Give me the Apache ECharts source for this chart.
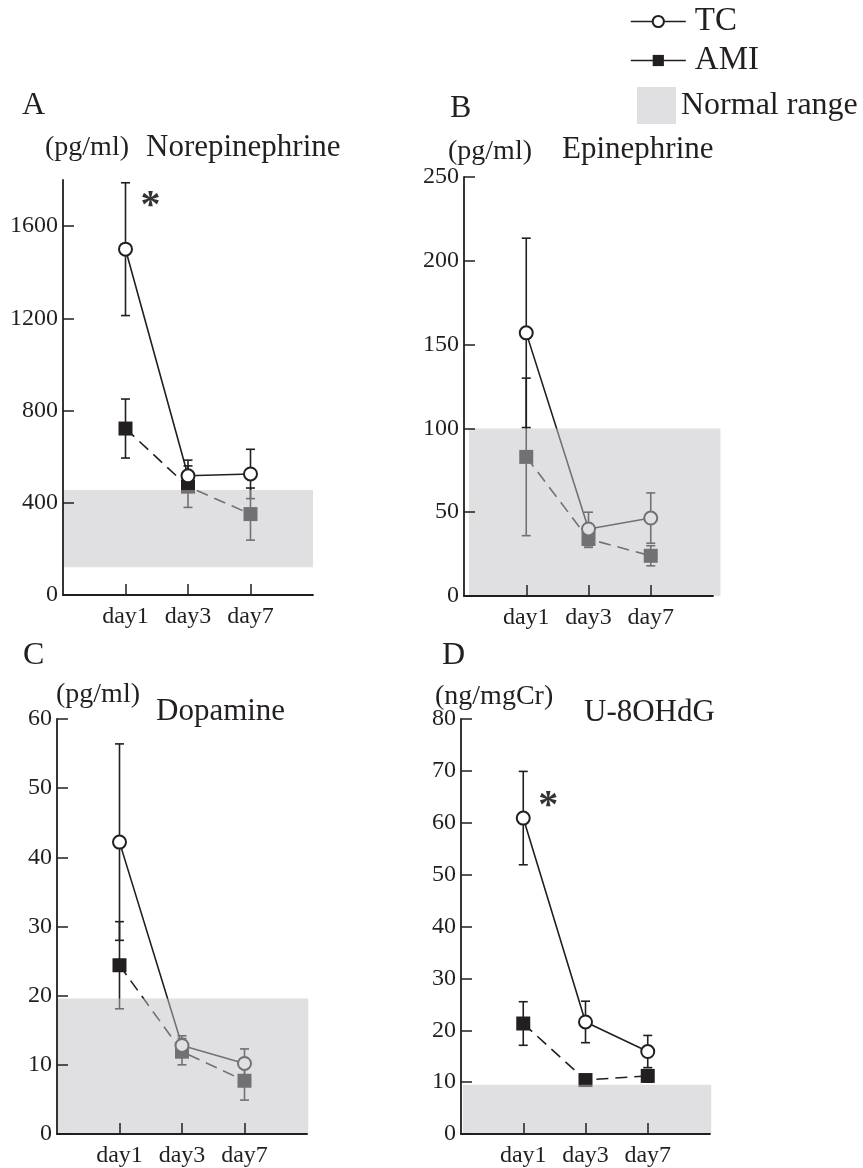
<!DOCTYPE html>
<html><head><meta charset="utf-8">
<script src="https://cdn.jsdelivr.net/npm/echarts@6/dist/echarts.min.js"></script>
<style>html,body{margin:0;padding:0;background:#fff}#c{width:863px;height:1168px}</style>
</head><body><div id="c"></div>
<script>
// ---------- data ----------
const days = ['day1', 'day3', 'day7'];

// A: Norepinephrine (pg/ml)
const neTcMean = [1500, 517, 525];
const neTcSd = [288, 68, 107];
const neAmiMean = [722, 470, 351];
const neAmiSd = [128, 90, 113];
const neNormal = [120, 455];
const neTicks = [0, 400, 800, 1200, 1600];

// B: Epinephrine (pg/ml)
const epTcMean = [157, 40, 46.5];
const epTcSd = [56.5, 10, 15];
const epAmiMean = [83, 34, 24];
const epAmiSd = [47, 5, 6];
const epNormal = [0, 100];
const epTicks = [0, 50, 100, 150, 200, 250];

// C: Dopamine (pg/ml)
const dpTcMean = [42.2, 12.8, 10.2];
const dpTcSd = [14.2, 1.4, 2.1];
const dpAmiMean = [24.4, 11.9, 7.7];
const dpAmiSd = [6.3, 1.9, 2.8];
const dpNormal = [0, 19.6];
const dpTicks = [0, 10, 20, 30, 40, 50, 60];

// D: U-8OHdG (ng/mgCr)
const ohTcMean = [60.9, 21.6, 15.9];
const ohTcSd = [9, 4, 3.1];
const ohAmiMean = [21.3, 10.4, 11.2];
const ohAmiSd = [4.2, 1.0, 1.2];
const ohNormal = [0, 9.5];
const ohTicks = [0, 10, 20, 30, 40, 50, 60, 70, 80];

// significance marks (data coords, panel A and D)
const sigA = [1.4, 1705];
const sigD = [1.4, 64];

// ---------- layout / styles ----------
const FONT = '"Liberation Serif", "Times New Roman", serif';
const INK = '#231f20';
const BAND = 'rgba(193,194,198,0.5)';

const panels = [
  {letter: 'A', unit: '(pg/ml)', title: 'Norepinephrine', tc: neTcMean, tcSd: neTcSd, ami: neAmiMean, amiSd: neAmiSd, normal: neNormal, ticks: neTicks, yMax: 1800,
   grid: {left: 63, top: 180, width: 250, height: 415}, bandX: [0, 4],
   text: {letter: [22, 106], unit: [45, 148], title: [146, 148]}},
  {letter: 'B', unit: '(pg/ml)', title: 'Epinephrine', tc: epTcMean, tcSd: epTcSd, ami: epAmiMean, amiSd: epAmiSd, normal: epNormal, ticks: epTicks, yMax: 250,
   grid: {left: 464, top: 177, width: 249, height: 419}, bandX: [0.08, 4.12],
   text: {letter: [450, 109], unit: [448, 152], title: [562, 150]}},
  {letter: 'C', unit: '(pg/ml)', title: 'Dopamine', tc: dpTcMean, tcSd: dpTcSd, ami: dpAmiMean, amiSd: dpAmiSd, normal: dpNormal, ticks: dpTicks, yMax: 60,
   grid: {left: 57, top: 719, width: 250, height: 416}, bandX: [0, 4.02],
   text: {letter: [23, 656], unit: [56, 695], title: [156, 712]}},
  {letter: 'D', unit: '(ng/mgCr)', title: 'U-8OHdG', tc: ohTcMean, tcSd: ohTcSd, ami: ohAmiMean, amiSd: ohAmiSd, normal: ohNormal, ticks: ohTicks, yMax: 80,
   grid: {left: 461, top: 719, width: 249, height: 416}, bandX: [0.03, 4.02],
   text: {letter: [442, 656], unit: [435, 697], title: [584, 713]}}
];

const grids = [], xAxes = [], yAxes = [], series = [], graphics = [];

function errRender(params, api) {
  const x = api.value(0), lo = api.value(1), hi = api.value(2);
  const pTop = api.coord([x, hi]);
  const pBot = api.coord([x, lo]);
  const cap = 4.5;
  const st = {stroke: INK, lineWidth: 1.6};
  return {type: 'group', children: [
    {type: 'line', shape: {x1: pTop[0], y1: pTop[1], x2: pBot[0], y2: pBot[1]}, style: st},
    {type: 'line', shape: {x1: pTop[0] - cap, y1: pTop[1], x2: pTop[0] + cap, y2: pTop[1]}, style: st},
    {type: 'line', shape: {x1: pBot[0] - cap, y1: pBot[1], x2: pBot[0] + cap, y2: pBot[1]}, style: st}
  ]};
}
function bandRender(params, api) {
  const p0 = api.coord([api.value(0), api.value(3)]);
  const p1 = api.coord([api.value(1), api.value(2)]);
  return {type: 'rect', shape: {x: p0[0], y: p0[1], width: p1[0] - p0[0], height: p1[1] - p0[1]},
          style: {fill: BAND}};
}

panels.forEach((p, i) => {
  grids.push(Object.assign({containLabel: false}, p.grid));
  xAxes.push({
    type: 'value', gridIndex: i, min: 0, max: 4, z: 20,
    axisLine: {show: true, onZero: false, lineStyle: {color: INK, width: 1.8}},
    axisTick: {show: true, inside: true, length: 11, customValues: [1, 2, 3], lineStyle: {color: INK, width: 1.5}},
    axisLabel: {show: true, customValues: [1, 2, 3], formatter: v => days[Math.round(v) - 1] || '',
                fontFamily: FONT, fontSize: 24, color: INK, margin: 10},
    splitLine: {show: false}
  });
  yAxes.push({
    type: 'value', gridIndex: i, min: 0, max: p.yMax, z: 20,
    axisLine: {show: true, onZero: false, lineStyle: {color: INK, width: 1.8}},
    axisTick: {show: true, inside: true, length: 11, customValues: p.ticks, lineStyle: {color: INK, width: 1.5}},
    axisLabel: {show: true, customValues: p.ticks, formatter: v => String(v),
                fontFamily: FONT, fontSize: 24, color: INK, margin: 5},
    splitLine: {show: false}
  });
  const xs = days.map((d, k) => k + 1);
  // error bars
  series.push({
    type: 'custom', name: 'err', xAxisIndex: i, yAxisIndex: i, z: 2, silent: true,
    renderItem: errRender, encode: {x: 0, y: [1, 2]},
    data: xs.map((x, k) => [x, p.ami[k] - p.amiSd[k], p.ami[k] + p.amiSd[k]])
      .concat(xs.map((x, k) => [x, p.tc[k] - p.tcSd[k], p.tc[k] + p.tcSd[k]]))
  });
  series.push({
    type: 'line', name: 'AMI', xAxisIndex: i, yAxisIndex: i, z: 3,
    data: xs.map((x, k) => [x, p.ami[k]]),
    symbol: 'rect', symbolSize: 14,
    itemStyle: {color: INK},
    lineStyle: {color: INK, width: 1.6, type: [12, 7]}
  });
  series.push({
    type: 'line', name: 'TC', xAxisIndex: i, yAxisIndex: i, z: 4,
    data: xs.map((x, k) => [x, p.tc[k]]),
    symbol: 'emptyCircle', symbolSize: 13,
    itemStyle: {color: INK, borderWidth: 2},
    lineStyle: {color: INK, width: 1.6}
  });
  series.push({
    type: 'custom', name: 'Normal range', xAxisIndex: i, yAxisIndex: i, z: 10, silent: true,
    renderItem: bandRender, encode: {x: [0, 1], y: [2, 3]},
    itemStyle: {color: BAND},
    data: [[p.bandX[0], p.bandX[1], p.normal[0], p.normal[1]]]
  });
  const t = p.text;
  graphics.push({type: 'text', x: t.letter[0], y: t.letter[1], style: {text: p.letter, font: '32px ' + FONT, fill: INK, verticalAlign: 'middle', textVerticalAlign: 'middle'}});
  graphics.push({type: 'text', x: t.unit[0], y: t.unit[1], style: {text: p.unit, font: '28px ' + FONT, fill: INK, verticalAlign: 'middle', textVerticalAlign: 'middle'}});
  graphics.push({type: 'text', x: t.title[0], y: t.title[1], style: {text: p.title, font: '31px ' + FONT, fill: INK, verticalAlign: 'middle', textVerticalAlign: 'middle'}});
});

// significance asterisks
[[0, sigA], [3, sigD]].forEach(([gi, pt]) => {
  series.push({
    type: 'scatter', name: 'sig', xAxisIndex: gi, yAxisIndex: gi, z: 5, silent: true,
    symbolSize: 1, itemStyle: {color: 'rgba(0,0,0,0)'},
    label: {show: true, position: 'top', distance: 0, formatter: '*', fontFamily: FONT, fontWeight: 'bold',
            fontSize: 40, color: '#000', offset: [0, 25]},
    data: [pt]
  });
});

const chart = echarts.init(document.getElementById('c'), null, {renderer: 'canvas'});
chart.setOption({
  animation: false,
  backgroundColor: '#fff',
  grid: grids, xAxis: xAxes, yAxis: yAxes, series: series, graphic: graphics,
  legend: [
    {orient: 'vertical', left: 625, top: 0, itemGap: 6, itemWidth: 55, itemHeight: 14,
     data: ['TC', 'AMI'], lineStyle: {type: 'solid', width: 1.6},
     textStyle: {fontFamily: FONT, fontSize: 33, color: INK, padding: [0, 0, 0, 4]}, selectedMode: false},
    {orient: 'vertical', left: 632, top: 82, itemWidth: 39, itemHeight: 37,
     data: [{name: 'Normal range', icon: 'rect'}],
     textStyle: {fontFamily: FONT, fontSize: 32, color: INK}, selectedMode: false}
  ]
});
</script></body></html>
